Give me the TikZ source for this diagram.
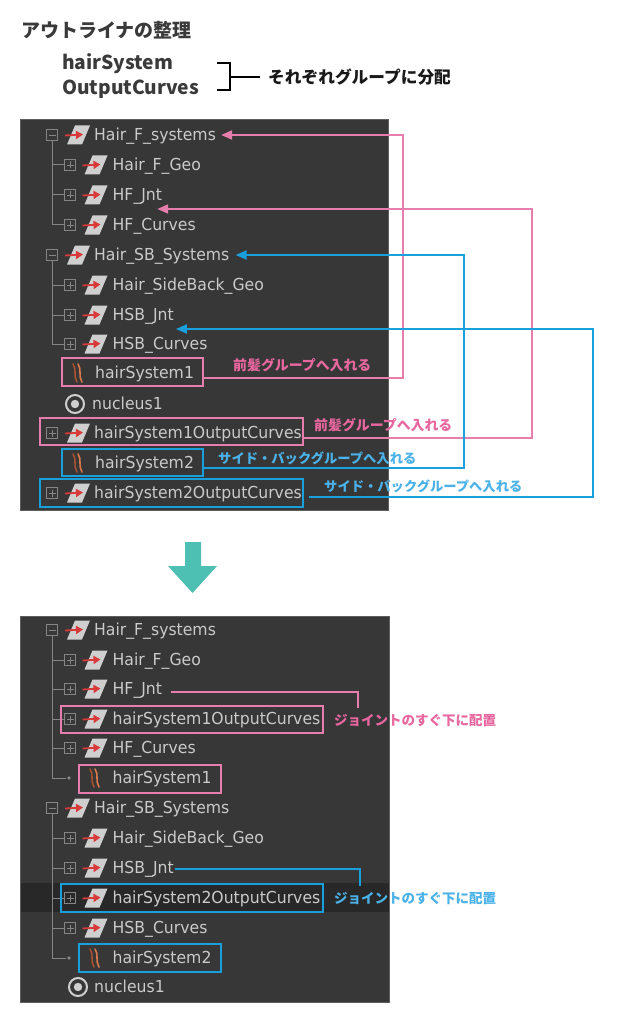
\documentclass[tikz,border=0pt]{standalone}
\usepackage{fontspec}
\setmainfont{DejaVu Sans}
\newfontfamily\uifont[FakeStretch=0.95]{DejaVu Sans}
\newfontfamily\jpfont{Noto Sans CJK JP}
\usetikzlibrary{arrows.meta}
\definecolor{panelbg}{HTML}{373737}
\definecolor{panelrim}{HTML}{5E5E5E}
\definecolor{rowtxt}{HTML}{CACACA}
\definecolor{treeln}{HTML}{858585}
\definecolor{icongray}{HTML}{CFCFCF}
\definecolor{iconred}{HTML}{D83A3A}
\definecolor{hairA}{HTML}{D9784A}
\definecolor{hairB}{HTML}{A5502E}
\definecolor{pinkln}{HTML}{E57DAD}
\definecolor{pinktx}{HTML}{E8679F}
\definecolor{blueln}{HTML}{1A9FDD}
\definecolor{bluetx}{HTML}{4AB2E8}
\definecolor{tealc}{HTML}{4DBFB3}
\definecolor{bandc}{HTML}{282828}
\definecolor{headtx}{HTML}{3A3A3A}
\begin{document}
\begin{tikzpicture}[x=1pt,y=-1pt,
  row/.style={anchor=west,inner sep=0pt,text height=11.6pt,text depth=0pt,text=rowtxt,font=\uifont\fontsize{16.5}{18}\selectfont},
  jpl/.style={anchor=west,inner sep=0pt,font=\jpfont\bfseries\fontsize{#1}{#1}\selectfont},
  pinklab/.style={jpl=#1,text=pinktx},
  bluelab/.style={jpl=#1,text=bluetx},
  hdr/.style={anchor=west,inner sep=0pt,text height=12.6pt,text depth=0pt,text=headtx,font=\jpfont\bfseries\fontsize{19.2}{19.2}\selectfont},
  pinkbox/.style={draw=pinkln,line width=2.5pt,inner sep=0pt},
  bluebox/.style={draw=blueln,line width=2.5pt,inner sep=0pt},
  pinkarr/.style={draw=pinkln,line width=2pt,-{Triangle[length=11pt,width=9pt]}},
  bluearr/.style={draw=blueln,line width=2pt,-{Triangle[length=11pt,width=9pt]}},
  pinkline/.style={draw=pinkln,line width=1.8pt},
  blueline/.style={draw=blueln,line width=1.8pt},
  treeline/.style={draw=treeln,line width=1pt},
  plusbox/.pic={\draw[treeln,line width=0.9pt] (-5.5,-5.5) rectangle (5.5,5.5) (-3.5,0)--(3.5,0) (0,-3.5)--(0,3.5);},
  minusbox/.pic={\draw[treeln,line width=0.9pt] (-5.5,-5.5) rectangle (5.5,5.5) (-3.5,0)--(3.5,0);},
  xform/.pic={\fill[icongray] (-11.5,9.5) -- (3.5,9.5) -- (11.5,-9.5) -- (-3.5,-9.5) -- cycle;
    \draw[iconred,line width=1.8pt,-{Triangle[length=7pt,width=8pt]}] (-13.5,0.5) -- (4.5,-0.5);},
  hairicon/.pic={\draw[hairB,line width=1.6pt,line cap=round] (-5,-9) .. controls (-1,-4) and (-5,3) .. (-1,9);
    \draw[hairA,line width=1.6pt,line cap=round] (0,-9) .. controls (4,-4) and (0,3) .. (4,9);},
  nucicon/.pic={\draw[icongray,line width=2pt] (0,0) circle (9); \fill[icongray] (0,0) circle (4.2);}
]
\useasboundingbox (0,0) rectangle (617,1024);
\fill[white] (0,0) rectangle (617,1024);

% ---------- header ----------
\node[anchor=west,inner sep=0pt,text=headtx,font=\jpfont\bfseries\fontsize{19}{19}\selectfont] (title) at (21,30) {アウトライナの整理};
\node[hdr] (h1) at (62,63.5) {hairSystem};
\node[hdr] (h2) at (62,88.5) {OutputCurves};
\node[jpl=16.7,text=black!90] (distr) at (268,77) {それぞれグループに分配};
\draw[line width=2.3pt] (217,63) -| (230,90) -- (217,90);
\draw[line width=2.3pt] (230,77) -- ([xshift=-8pt]distr.west);

% ---------- top panel ----------
\fill[panelbg] (20,119) rectangle (388,510);
\draw[panelrim,line width=0.8pt] (20,119) rectangle (388,510);
\draw[treeline] (52,140.5) -- (52,225) -- (64.5,225) (52,165) -- (64.5,165) (52,195) -- (64.5,195);
\draw[treeline] (52,260.5) -- (52,344) -- (64.5,344) (52,285) -- (64.5,285) (52,315) -- (64.5,315);

\pic at (52,135) {minusbox}; \pic at (78.5,135) {xform};
\node[row] (a1) at (94,135) {Hair\_F\_systems};
\pic at (70,165) {plusbox}; \pic at (96,165) {xform};
\node[row] (a2) at (112.5,165) {Hair\_F\_Geo};
\pic at (70,195) {plusbox}; \pic at (96,195) {xform};
\node[row] (a3) at (112.5,195) {HF\_Jnt};
\pic at (70,225) {plusbox}; \pic at (96,225) {xform};
\node[row] (a4) at (112.5,225) {HF\_Curves};
\pic at (52,255) {minusbox}; \pic at (78.5,255) {xform};
\node[row] (a5) at (94,255) {Hair\_SB\_Systems};
\pic at (70,285) {plusbox}; \pic at (96,285) {xform};
\node[row] (a6) at (112.5,285) {Hair\_SideBack\_Geo};
\pic at (70,315) {plusbox}; \pic at (96,315) {xform};
\node[row] (a7) at (112.5,315) {HSB\_Jnt};
\pic at (70,344) {plusbox}; \pic at (96,344) {xform};
\node[row] (a8) at (112.5,344) {HSB\_Curves};
\pic at (78,373) {hairicon};
\node[row] (a9) at (95,373) {hairSystem1};
\pic at (75,404) {nucicon};
\node[row] (a10) at (92,404) {nucleus1};
\pic at (52,433) {plusbox}; \pic at (78.5,433) {xform};
\node[row] (a11) at (94,433) {hairSystem1OutputCurves};
\pic at (78,463) {hairicon};
\node[row] (a12) at (95,463) {hairSystem2};
\pic at (52,493) {plusbox}; \pic at (78.5,493) {xform};
\node[row] (a13) at (94,493) {hairSystem2OutputCurves};

\node[pinkbox,minimum width=141pt,minimum height=28pt] (bx1) at (132.5,372) {};
\node[pinkbox,minimum width=263pt,minimum height=27pt] (bx2) at (171.5,431.5) {};
\node[bluebox,minimum width=141pt,minimum height=27pt] (bx3) at (132.5,462.5) {};
\node[bluebox,minimum width=263pt,minimum height=28pt] (bx4) at (171.5,493) {};

\coordinate (t2) at ([xshift=-5pt,yshift=-14pt]a3.east);
\coordinate (t4) at ([xshift=2pt,yshift=-14pt]a7.east);
\draw[pinkarr] ([yshift=-6pt]bx1.east) -| (403,135) -- ([xshift=5pt]a1.east);
\draw[pinkarr] ([yshift=-6.5pt]bx2.east) -| (532,209) -- (t2);
\draw[bluearr] ([yshift=-5.5pt]bx3.east) -| (464,255) -- ([xshift=6pt]a5.east);
\draw[bluearr] ([xshift=5pt,yshift=-4pt]bx4.east) -| (593,329) -- (t4);

\node[pinklab=13.9] (l1) at (233,365) {前髪グループへ入れる};
\node[pinklab=13.9] (l2) at (314,425) {前髪グループへ入れる};
\node[bluelab=13.3] (l3) at (218,458) {サイド・バックグループへ入れる};
\node[bluelab=13.3] (l4) at (324,486) {サイド・バックグループへ入れる};

% ---------- arrow ----------
\fill[tealc] (185,542) -- (201,542) -- (201,566) -- (217,566) -- (192.5,593) -- (168,566) -- (185,566) -- cycle;

% ---------- bottom panel ----------
\fill[panelbg] (20,616) rectangle (389,1002);
\fill[bandc] (20,883) rectangle (389,912);
\draw[panelrim,line width=0.8pt] (20,616) rectangle (389,1002);
\draw[treeline] (52,635.5) -- (52,778) -- (66,778) (52,660) -- (64.5,660) (52,689) -- (64.5,689) (52,719) -- (64.5,719) (52,748) -- (64.5,748);
\fill[treeln] (69,778) circle (1.9);
\draw[treeline] (52,813.5) -- (52,958) -- (66,958) (52,838) -- (64.5,838) (52,868) -- (64.5,868) (52,898) -- (64.5,898) (52,928) -- (64.5,928);
\fill[treeln] (69,958) circle (1.9);

\pic at (52,630) {minusbox}; \pic at (78.5,630) {xform};
\node[row] (b1) at (94,630) {Hair\_F\_systems};
\pic at (70,660) {plusbox}; \pic at (96,660) {xform};
\node[row] (b2) at (112.5,660) {Hair\_F\_Geo};
\pic at (70,689) {plusbox}; \pic at (96,689) {xform};
\node[row] (b3) at (112.5,689) {HF\_Jnt};
\pic at (70,719) {plusbox}; \pic at (96,719) {xform};
\node[row] (b4) at (112.5,719) {hairSystem1OutputCurves};
\pic at (70,748) {plusbox}; \pic at (96,748) {xform};
\node[row] (b5) at (112.5,748) {HF\_Curves};
\pic at (95,778) {hairicon};
\node[row] (b6) at (112.5,778) {hairSystem1};
\pic at (52,808) {minusbox}; \pic at (78.5,808) {xform};
\node[row] (b7) at (94,808) {Hair\_SB\_Systems};
\pic at (70,838) {plusbox}; \pic at (96,838) {xform};
\node[row] (b8) at (112.5,838) {Hair\_SideBack\_Geo};
\pic at (70,868) {plusbox}; \pic at (96,868) {xform};
\node[row] (b9) at (112.5,868) {HSB\_Jnt};
\pic at (70,898) {plusbox}; \pic at (96,898) {xform};
\node[row] (b10) at (112.5,898) {hairSystem2OutputCurves};
\pic at (70,928) {plusbox}; \pic at (96,928) {xform};
\node[row] (b11) at (112.5,928) {HSB\_Curves};
\pic at (95,958) {hairicon};
\node[row] (b12) at (112.5,958) {hairSystem2};
\pic at (78,987) {nucicon};
\node[row] (b13) at (94,987) {nucleus1};

\node[pinkbox,minimum width=262pt,minimum height=27pt] (bx5) at (192,719.5) {};
\node[pinkbox,minimum width=142pt,minimum height=28pt] (bx6) at (150,779) {};
\node[bluebox,minimum width=262pt,minimum height=28pt] (bx7) at (192,898) {};
\node[bluebox,minimum width=142pt,minimum height=28pt] (bx8) at (150,958) {};

\coordinate (e5) at (358,708);
\coordinate (e6) at (360,886);
\draw[pinkline] ([xshift=9pt,yshift=-3pt]b3.east) -| (e5);
\draw[blueline] ([xshift=1pt,yshift=-1pt]b9.east) -| (e6);

\node[pinklab=13.5] (l5) at (334,720) {ジョイントのすぐ下に配置};
\node[bluelab=13.5] (l6) at (334,898) {ジョイントのすぐ下に配置};
\end{tikzpicture}
\end{document}
